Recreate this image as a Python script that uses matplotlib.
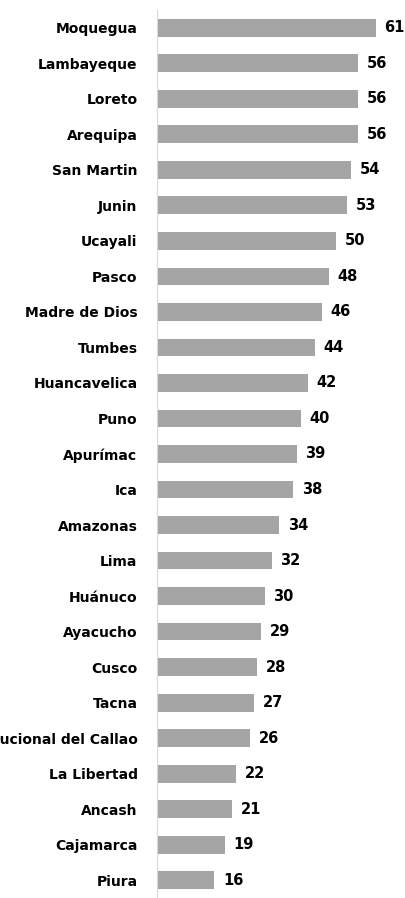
from matplotlib import pyplot as plt

# Regions and their values, top to bottom
regions = ["Moquegua", "Lambayeque", "Loreto", "Arequipa", "San Martin", "Junin",
           "Ucayali", "Pasco", "Madre de Dios", "Tumbes", "Huancavelica", "Puno",
           "Apurímac", "Ica", "Amazonas", "Lima", "Huánuco", "Ayacucho", "Cusco",
           "Tacna", "Prov. Constitucional del Callao", "La Libertad", "Ancash",
           "Cajamarca", "Piura"]
values = [61, 56, 56, 56, 54, 53, 50, 48, 46, 44, 42, 40, 39, 38, 34, 32, 30,
          29, 28, 27, 26, 22, 21, 19, 16]

plt.rcParams["font.family"] = ["DejaVu Sans"]

fig = plt.figure(figsize=(4.06, 8.98), dpi=100)
ax = fig.add_axes([157 / 406, 0, 1 - 157 / 406, 888 / 898])

pos = list(range(len(regions)))
bars = ax.barh(pos, values, height=0.5, color="#A5A5A5")
ax.set_ylim(len(regions) - 0.5, -0.5)
ax.set_xlim(0, 69.4)

# Value labels at the end of each bar
for y, v in zip(pos, values):
    ax.text(v + 2.4, y, str(v), va="center", ha="left",
            fontsize=10.5, fontweight="bold", color="black")

ax.set_yticks(pos)
ax.set_yticklabels(regions, fontsize=10, fontweight="bold")
ax.tick_params(axis="y", length=0, pad=14)
ax.set_xticks([])

for side in ["top", "right", "bottom"]:
    ax.spines[side].set_visible(False)
ax.spines["left"].set_color("#D9D9D9")

fig.savefig("out.png", dpi=100)
